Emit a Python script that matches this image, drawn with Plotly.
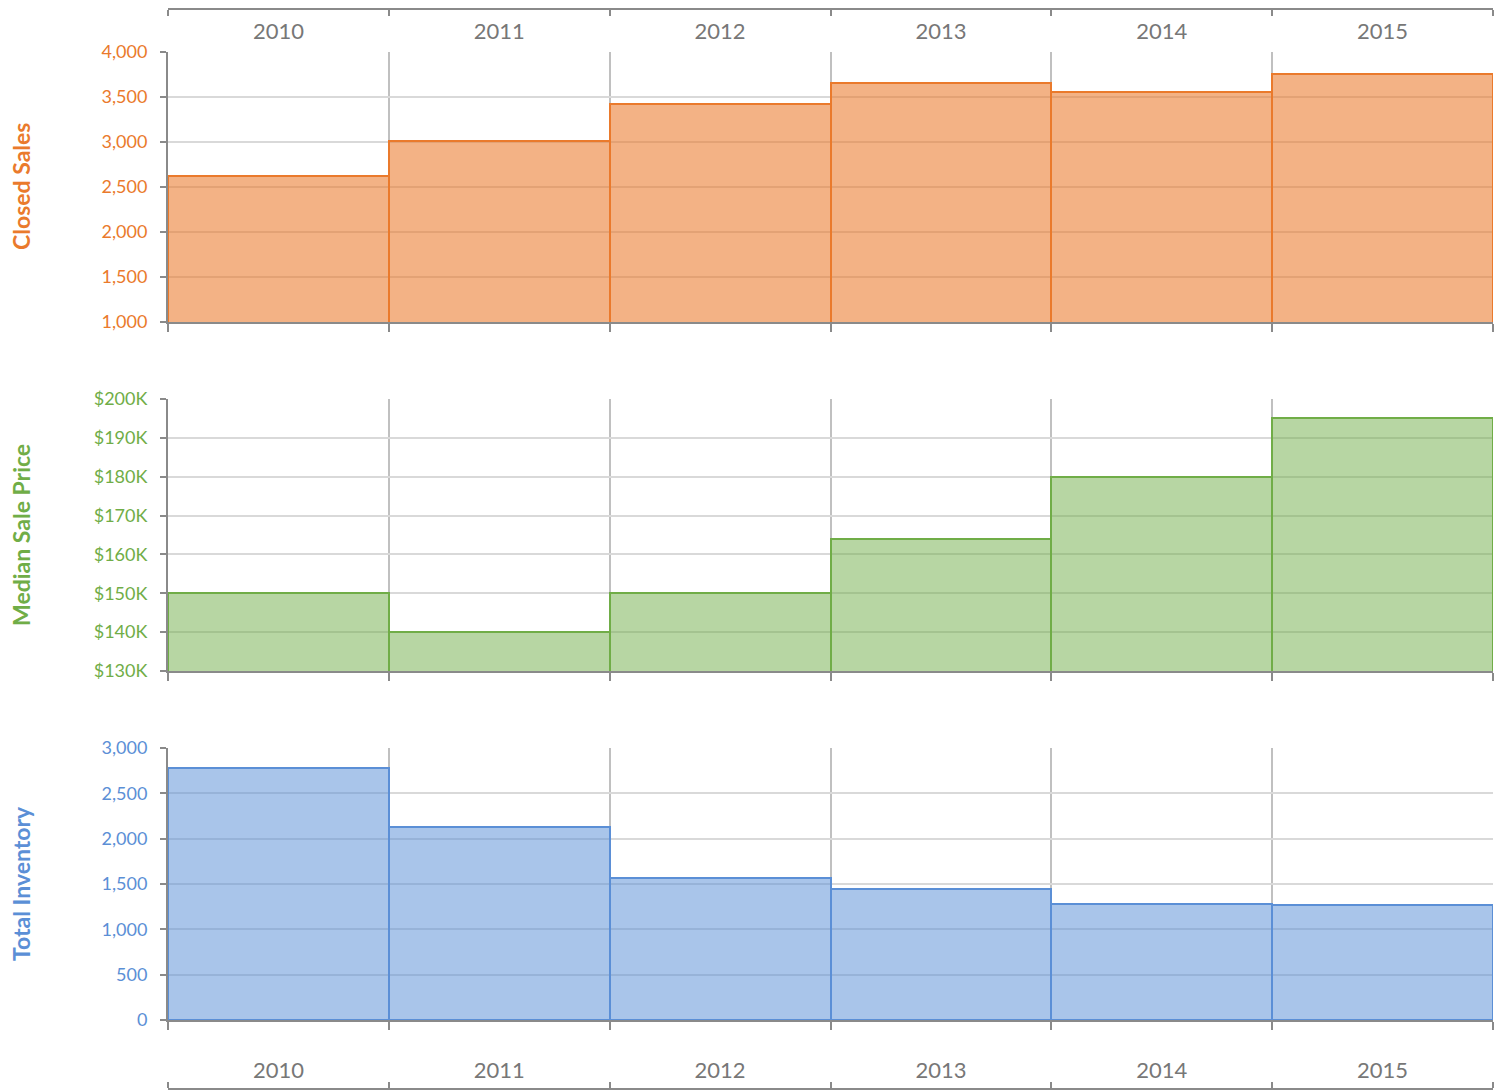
import plotly.graph_objects as go

years = ["2010", "2011", "2012", "2013", "2014", "2015"]
closed_sales = [2625, 3010, 3420, 3655, 3555, 3755]
median_price_k = [150, 140, 150, 164, 180, 195]
total_inventory = [2780, 2130, 1565, 1445, 1280, 1268]

OFF = 8  # page body margin
W, H = 1495, 1082
ML = 168 - OFF
MR = W - (1493 - OFF)

ORANGE = "#EA7A2C"
GREEN = "#70AD47"
BLUE = "#5B8FD6"
GRAY_TXT = "#777777"
AXIS_GRAY = "#8A8A8A"
HGRID = "#D9D9D9"
VGRID = "#C0C0C0"
FONT = "Lato"


def rgba(hex_color, a):
    h = hex_color.lstrip("#")
    r, g, b = int(h[0:2], 16), int(h[2:4], 16), int(h[4:6], 16)
    return f"rgba({r},{g},{b},{a})"


def py(pix):
    return (H - (pix - OFF)) / H


fig = go.Figure()

panels = [
    (closed_sales, ORANGE, "x", "y", 0.58),
    (median_price_k, GREEN, "x2", "y2", 0.5),
    (total_inventory, BLUE, "x3", "y3", 0.52),
]
for vals, col, xa, ya, alpha in panels:
    fig.add_trace(go.Bar(
        x=years, y=vals, xaxis=xa, yaxis=ya,
        marker=dict(color=rgba(col, alpha), line=dict(color=col, width=2)),
        showlegend=False, hoverinfo="x+y",
    ))

# invisible helper traces for the year-label axes
fig.add_trace(go.Scatter(x=years, y=closed_sales, xaxis="x4", yaxis="y",
                         mode="markers", marker=dict(opacity=0),
                         hoverinfo="skip", showlegend=False))
fig.add_trace(go.Scatter(x=years, y=total_inventory, xaxis="x5", yaxis="y3",
                         mode="markers", marker=dict(opacity=0),
                         hoverinfo="skip", showlegend=False))

xcommon = dict(
    type="category", range=[-0.5, 5.5], tickson="boundaries",
    showgrid=True, gridcolor=VGRID, gridwidth=1.5,
    showline=True, linecolor=AXIS_GRAY, linewidth=2,
    ticks="outside", ticklen=8, tickcolor=AXIS_GRAY, tickwidth=1.5,
    showticklabels=False, zeroline=False, automargin=False,
)
ycommon = dict(
    showgrid=True, gridcolor=HGRID, gridwidth=1.5,
    showline=True, linecolor=AXIS_GRAY, linewidth=2,
    ticks="outside", ticklen=6, tickcolor=AXIS_GRAY, tickwidth=1.5,
    zeroline=False, automargin=False, ticklabelstandoff=9,
)

yd1 = [py(322), py(52)]
yd2 = [py(671), py(399)]
yd3 = [py(1020), py(748)]

label_axis = dict(
    type="category", range=[-0.5, 5.5], tickson="boundaries",
    showgrid=False, showline=True, linecolor=AXIS_GRAY, linewidth=1.5,
    ticks="outside", ticklen=6, tickcolor=AXIS_GRAY, tickwidth=1.5,
    tickfont=dict(family=FONT, size=22, color=GRAY_TXT), zeroline=False,
    anchor="free", automargin=False,
)

fig.update_layout(
    width=W, height=H,
    margin=dict(l=ML, r=MR, t=0, b=0, pad=0),
    paper_bgcolor="white", plot_bgcolor="white",
    bargap=0,
    font=dict(family=FONT),
    xaxis=dict(**xcommon, domain=[0, 1], anchor="y"),
    xaxis2=dict(**xcommon, domain=[0, 1], anchor="y2", matches="x"),
    xaxis3=dict(**xcommon, domain=[0, 1], anchor="y3", matches="x"),
    xaxis4=dict(**label_axis, overlaying="x", side="bottom", position=py(9),
                ticklabelstandoff=3),
    xaxis5=dict(**label_axis, overlaying="x3", side="top", position=py(1089),
                ticklabelstandoff=1),
    yaxis=dict(**ycommon, domain=yd1, anchor="x", range=[1000, 4000], dtick=500,
               tickformat=",", tickfont=dict(family=FONT, size=18, color=ORANGE)),
    yaxis2=dict(**ycommon, domain=yd2, anchor="x2", range=[130, 200], dtick=10,
                tickprefix="$", ticksuffix="K",
                tickfont=dict(family=FONT, size=18, color=GREEN)),
    yaxis3=dict(**ycommon, domain=yd3, anchor="x3", range=[0, 3000], dtick=500,
                tickformat=",", tickfont=dict(family=FONT, size=18, color=BLUE)),
)

titles = [("Closed Sales", ORANGE, yd1), ("Median Sale Price", GREEN, yd2),
          ("Total Inventory", BLUE, yd3)]
for text, col, dom in titles:
    fig.add_annotation(
        text=f"<b>{text}</b>", textangle=-90, showarrow=False,
        xref="paper", yref="paper", x=(21 - OFF - ML) / (W - ML - MR),
        y=(dom[0] + dom[1]) / 2, xanchor="center", yanchor="middle",
        font=dict(family=FONT, size=23, color=col),
    )

fig.write_html("out.html")
